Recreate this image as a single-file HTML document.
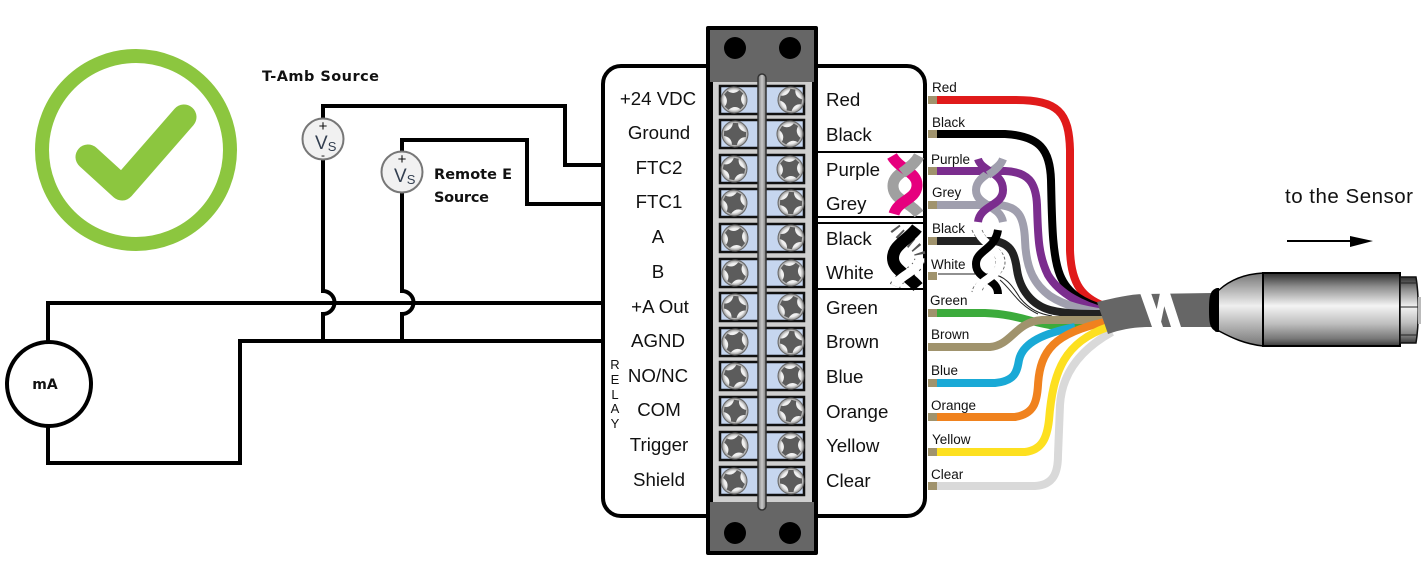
<!DOCTYPE html>
<html>
<head>
<meta charset="utf-8">
<style>
html,body{margin:0;padding:0;background:#fff}
svg{display:block}
text{font-family:"Liberation Sans",Arial,sans-serif;fill:#111}
.l{font-size:18.7px;text-anchor:middle}
.r{font-size:18.7px}
.w{font-size:13.5px}
.b{font-family:"DejaVu Sans",sans-serif;font-weight:bold;font-size:14.5px}
.wire{fill:none;stroke-width:8;stroke-linecap:butt}
.ck{fill:none;stroke:#000;stroke-width:4}
</style>
</head>
<body>
<svg width="1428" height="563" viewBox="0 0 1428 563" xmlns="http://www.w3.org/2000/svg">
<defs>
<radialGradient id="sc" cx="50%" cy="50%" r="50%">
<stop offset="0" stop-color="#fff"/><stop offset=".75" stop-color="#eee"/><stop offset="1" stop-color="#8d8d8d"/>
</radialGradient>
<linearGradient id="bar" x1="0" x2="1" y1="0" y2="0">
<stop offset="0" stop-color="#777"/><stop offset=".5" stop-color="#c8c8c8"/><stop offset="1" stop-color="#777"/>
</linearGradient>
<linearGradient id="cyl" x1="0" x2="0" y1="0" y2="1">
<stop offset="0" stop-color="#2e2e2e"/><stop offset=".18" stop-color="#8a8a8a"/><stop offset=".45" stop-color="#f4f4f4"/><stop offset=".7" stop-color="#bdbdbd"/><stop offset=".9" stop-color="#777"/><stop offset="1" stop-color="#3a3a3a"/>
</linearGradient>
<linearGradient id="cone" x1="0" x2="0" y1="0" y2="1">
<stop offset="0" stop-color="#777"/><stop offset=".45" stop-color="#efefef"/><stop offset="1" stop-color="#777"/>
</linearGradient>
<g id="s">
<circle r="13" fill="url(#sc)" stroke="#666" stroke-width="1"/>
<path d="M-11-2.5 Q-3.5-3 -2.5-11 L2.5-11 Q3-3.5 11-2.5 L11 2.5 Q3.5 3 2.5 11 L-2.5 11 Q-3 3.5 -11 2.5Z" fill="#5c5c5c"/>
</g>
<g id="c">
<rect x="720" y="-14" width="84" height="28" fill="#c6d6ef" stroke="#111" stroke-width="2.5"/>
</g>
</defs>

<rect width="1428" height="563" fill="#fff"/>

<!-- check badge -->
<circle cx="136" cy="150" r="94" fill="none" stroke="#8cc63f" stroke-width="14"/>
<path d="M88 157 L122 188 L184 117" fill="none" stroke="#8cc63f" stroke-width="25" stroke-linecap="round" stroke-linejoin="round"/>

<!-- circuit wires -->
<path class="ck" d="M323 120 V106 H565 V165 H604"/>
<path class="ck" d="M402 152 V140 H527 V204 H604"/>
<path class="ck" d="M323 158 V291 A11.5 11.5 0 0 1 323 314 V341"/>
<path class="ck" d="M402 190 V291 A11.5 11.5 0 0 1 402 314 V341"/>
<path class="ck" d="M48 345 V303 H604"/>
<path class="ck" d="M48 424 V463 H240 V341 H604"/>

<circle cx="323" cy="139" r="20.5" fill="#f1f1f1" stroke="#777" stroke-width="2"/>
<circle cx="402" cy="172" r="20.5" fill="#f1f1f1" stroke="#777" stroke-width="2"/>
<text x="323" y="131" font-size="15" text-anchor="middle">+</text>
<text x="402" y="164" font-size="15" text-anchor="middle">+</text>
<text x="315" y="149" font-size="19" style="fill:#333f50">V<tspan font-size="13" dy="2">S</tspan></text>
<text x="394" y="182" font-size="19" style="fill:#333f50">V<tspan font-size="13" dy="2">S</tspan></text>
<text x="323" y="159" font-size="12" text-anchor="middle">-</text>

<circle cx="49" cy="384" r="42" fill="#fff" stroke="#000" stroke-width="4"/>
<text x="45" y="389" text-anchor="middle" class="b" style="font-size:14px">mA</text>

<text x="262" y="81" class="b" textLength="117">T-Amb Source</text>
<text x="434" y="179" class="b" textLength="78">Remote E</text>
<text x="434" y="202" class="b" textLength="55">Source</text>

<!-- panel -->
<rect x="603" y="66" width="322" height="450" rx="18" fill="#fff" stroke="#000" stroke-width="4"/>
<path d="M818 152 H924 M818 217 H924 M818 223 H924 M818 289 H924" stroke="#000" stroke-width="2" fill="none"/>

<!-- left labels -->
<text class="l" x="658" y="105">+24 VDC</text>
<text class="l" x="659" y="139">Ground</text>
<text class="l" x="659" y="174">FTC2</text>
<text class="l" x="659" y="208">FTC1</text>
<text class="l" x="658" y="243">A</text>
<text class="l" x="658" y="278">B</text>
<text class="l" x="660" y="313">+A Out</text>
<text class="l" x="658" y="347">AGND</text>
<text class="l" x="658" y="382">NO/NC</text>
<text class="l" x="659" y="416">COM</text>
<text class="l" x="659" y="451">Trigger</text>
<text class="l" x="659" y="486">Shield</text>
<g font-size="13" text-anchor="middle">
<text x="615" y="369">R</text><text x="615" y="384">E</text><text x="615" y="399">L</text><text x="615" y="413">A</text><text x="615" y="428">Y</text>
</g>

<!-- right labels -->
<text class="r" x="826" y="106">Red</text>
<text class="r" x="826" y="141">Black</text>
<text class="r" x="826" y="176">Purple</text>
<text class="r" x="826" y="210">Grey</text>
<text class="r" x="826" y="245">Black</text>
<text class="r" x="826" y="279">White</text>
<text class="r" x="826" y="314">Green</text>
<text class="r" x="826" y="348">Brown</text>
<text class="r" x="826" y="383">Blue</text>
<text class="r" x="826" y="418">Orange</text>
<text class="r" x="826" y="452">Yellow</text>
<text class="r" x="826" y="487">Clear</text>

<!-- terminal block -->
<rect x="708" y="28" width="108" height="525" fill="#666" stroke="#000" stroke-width="4" stroke-linejoin="round"/>
<rect x="713" y="82" width="99" height="420" fill="#cfcfcf"/>
<path d="M710 82 V502 M815 82 V502" stroke="#000" stroke-width="6"/>
<circle cx="735" cy="48" r="11" fill="#000"/><circle cx="790" cy="48" r="11" fill="#000"/>
<circle cx="735" cy="533" r="11" fill="#000"/><circle cx="790" cy="533" r="11" fill="#000"/>

<use href="#c" y="100"/><use href="#c" y="134"/><use href="#c" y="169"/><use href="#c" y="203"/>
<use href="#c" y="238"/><use href="#c" y="273"/><use href="#c" y="307"/><use href="#c" y="342"/>
<use href="#c" y="376"/><use href="#c" y="411"/><use href="#c" y="446"/><use href="#c" y="481"/>

<use href="#s" transform="translate(734 100) rotate(42)"/><use href="#s" transform="translate(791 100) rotate(10)"/>
<use href="#s" transform="translate(735 134) rotate(3)"/><use href="#s" transform="translate(790 134) rotate(33)"/>
<use href="#s" transform="translate(734 169) rotate(12)"/><use href="#s" transform="translate(790 169) rotate(42)"/>
<use href="#s" transform="translate(734 203) rotate(28)"/><use href="#s" transform="translate(791 203) rotate(2)"/>
<use href="#s" transform="translate(735 238) rotate(40)"/><use href="#s" transform="translate(791 238) rotate(8)"/>
<use href="#s" transform="translate(735 273) rotate(30)"/><use href="#s" transform="translate(791 273) rotate(38)"/>
<use href="#s" transform="translate(735 307) rotate(5)"/><use href="#s" transform="translate(791 307) rotate(25)"/>
<use href="#s" transform="translate(735 342) rotate(35)"/><use href="#s" transform="translate(791 342) rotate(5)"/>
<use href="#s" transform="translate(735 376) rotate(20)"/><use href="#s" transform="translate(791 376) rotate(40)"/>
<use href="#s" transform="translate(735 411) rotate(8)"/><use href="#s" transform="translate(791 411) rotate(15)"/>
<use href="#s" transform="translate(735 446) rotate(30)"/><use href="#s" transform="translate(791 446) rotate(42)"/>
<use href="#s" transform="translate(734 481) rotate(28)"/><use href="#s" transform="translate(791 481) rotate(0)"/>

<rect x="758" y="74" width="8" height="436" rx="4" fill="url(#bar)" stroke="#333" stroke-width="1.5"/>

<!-- panel twist icons -->
<g fill="none" stroke-width="11">
<path d="M919 156 C912 170 893 172 893 186 C893 200 910 202 919 214" stroke="#a0a0a0"/>
<path d="M892 156 C900 170 918 172 917 186 C916 200 898 200 894 214" stroke="#e6007e"/>
<path d="M919 156 C914 165 907 169 902 173" stroke="#a0a0a0"/>
</g>
<g fill="none">
<path d="M895 228 C905 242 921 245 920 258 C919 272 900 274 895 286" stroke="#555" stroke-width="11" stroke-dasharray="2 5"/>
<path d="M917 228 C908 240 893 245 893 258 C893 270 908 275 918 287" stroke="#000" stroke-width="12"/>
<path d="M920 258 C919 272 900 274 895 286" stroke="#fff" stroke-width="9"/>
</g>

<!-- wires -->
<path class="wire" stroke="#e01a1a" d="M937 100 H1015 C1058 100 1069 112 1070 150 V250 C1071 285 1083 298 1104 306"/>
<path class="wire" stroke="#000" d="M937 134 H1005 C1040 136 1050 150 1051 180 C1052 220 1052 255 1060 275 C1068 295 1085 303 1104 309"/>
<path class="wire" stroke="#7b2d8e" d="M937 171 H1005 C1028 172 1036 182 1037 205 C1038 235 1038 255 1048 275 C1060 295 1085 306 1104 311"/>
<path class="wire" stroke="#a09fae" d="M937 205 H998 C1018 206 1024 216 1025 240 C1026 270 1035 285 1050 296 C1065 306 1085 310 1104 313"/>
<path class="wire" stroke="#222" d="M937 241 H995 C1012 244 1015 255 1017 270 C1020 290 1032 305 1050 310 C1065 314 1085 314 1104 314"/>
<path fill="none" stroke="#222" stroke-width="1" d="M938 274 H990 C1005 275 1012 285 1020 298 C1030 310 1040 314 1052 316"/>
<path fill="none" stroke="#222" stroke-width="1" d="M1000 280 C1012 290 1018 305 1038 314"/>
<path class="wire" stroke="#3cab3c" d="M937 313 H985 C1015 314 1030 322 1050 325 C1065 328 1085 326 1104 322"/>
<path class="wire" stroke="#a0936d" d="M937 347 H990 C1012 345 1015 322 1042 320 H1104"/>
<path class="wire" stroke="#19a9d6" d="M937 383 H995 C1015 381 1017 372 1019 360 C1023 342 1045 333 1075 327"/>
<path class="wire" stroke="#f0821e" d="M937 417 H1015 C1034 414 1037 402 1038 385 C1040 350 1055 333 1105 322"/>
<path class="wire" stroke="#d9d9d9" d="M937 486 H1035 C1054 485 1058 472 1058 455 L1060 405 C1062 370 1085 347 1112 332"/>
<path class="wire" stroke="#fde020" d="M937 452 H1025 C1042 450 1047 438 1049 420 C1053 370 1065 342 1108 327"/>

<!-- stubs -->
<g fill="#a0936d">
<rect x="928" y="96" width="9" height="8"/><rect x="928" y="130" width="9" height="8"/>
<rect x="928" y="167" width="9" height="8"/><rect x="928" y="201" width="9" height="8"/>
<rect x="928" y="237" width="9" height="8"/><rect x="928" y="272" width="9" height="8"/>
<rect x="928" y="309" width="9" height="8"/><rect x="928" y="343" width="9" height="8"/>
<rect x="928" y="379" width="9" height="8"/><rect x="928" y="413" width="9" height="8"/>
<rect x="928" y="448" width="9" height="8"/><rect x="928" y="482" width="9" height="8"/>
</g>

<!-- wire twists -->
<g fill="none" stroke-width="8">
<path d="M1003 159 C998 172 976 175 976 190 C976 206 1000 205 1003 222" stroke="#a09fae"/>
<path d="M978 159 C982 172 1003 172 1003 190 C1003 206 980 205 978 222" stroke="#7b2d8e"/>
<path d="M1003 159 C1000 167 993 172 988 175" stroke="#a09fae"/>
</g>
<g fill="none" stroke="#666" stroke-width="1" stroke-dasharray="3 2">
<path d="M972 230 C978 245 996 248 996 262 C996 278 974 278 972 292"/>
<path d="M982 230 C988 245 1005 248 1005 262 C1005 278 984 278 982 292"/>
</g>
<g fill="none" stroke-width="8">
<path d="M977 230 C983 245 1000 248 1000 262 C1000 278 979 278 977 292" stroke="#fff"/>
<path d="M998 230 C995 250 976 250 976 264 C976 280 998 278 998 294" stroke="#000"/>
<path d="M1000 262 C1000 278 979 278 977 292" stroke="#fff"/>
</g>

<!-- wire labels -->
<text class="w" x="932" y="92">Red</text>
<text class="w" x="932" y="127">Black</text>
<text class="w" x="931" y="164">Purple</text>
<text class="w" x="932" y="197">Grey</text>
<text class="w" x="932" y="233">Black</text>
<text class="w" x="931" y="269">White</text>
<text class="w" x="930" y="305">Green</text>
<text class="w" x="931" y="339">Brown</text>
<text class="w" x="931" y="375">Blue</text>
<text class="w" x="931" y="410">Orange</text>
<text class="w" x="932" y="444">Yellow</text>
<text class="w" x="931" y="479">Clear</text>

<!-- cable -->
<path d="M1097 302 C1115 298 1130 294 1145 294 L1212 293 V327 L1150 327 C1135 327 1122 329 1108 334 Z" fill="#666"/>
<path d="M1140 293 H1151 L1163 327 H1152 Z M1160 293 H1170 L1181 327 H1171 Z M1160 293 H1167 L1160 327 H1153 Z" fill="#fff"/>

<!-- sensor -->
<path d="M1263 273 V346 C1245 344 1232 338 1219 331 H1216 V290 H1219 C1230 280 1245 274 1263 273 Z" fill="url(#cone)" stroke="#000" stroke-width="1.5"/>
<path d="M1217 288 C1210 290 1209 296 1209 310 C1209 324 1210 329 1217 332 H1219 V288 Z" fill="#000"/>
<rect x="1263" y="273" width="137" height="73" fill="url(#cyl)" stroke="#000" stroke-width="2"/>
<path d="M1400 277 H1416 C1419 295 1419 325 1416 343 H1400 Z" fill="url(#cyl)" stroke="#111" stroke-width="1.5"/>
<path d="M1400 283 H1417 M1400 307 H1419 M1400 335 H1417" stroke="#222" stroke-width="1" fill="none"/>
<rect x="1418" y="297" width="3" height="27" fill="#bbb"/>

<!-- to the sensor -->
<text x="1285" y="203" font-size="20.5" textLength="128">to the Sensor</text>
<path d="M1287 241 H1356" stroke="#000" stroke-width="2"/>
<path d="M1350 236 L1373 241 L1350 247 Z" fill="#000"/>
</svg>
</body>
</html>
